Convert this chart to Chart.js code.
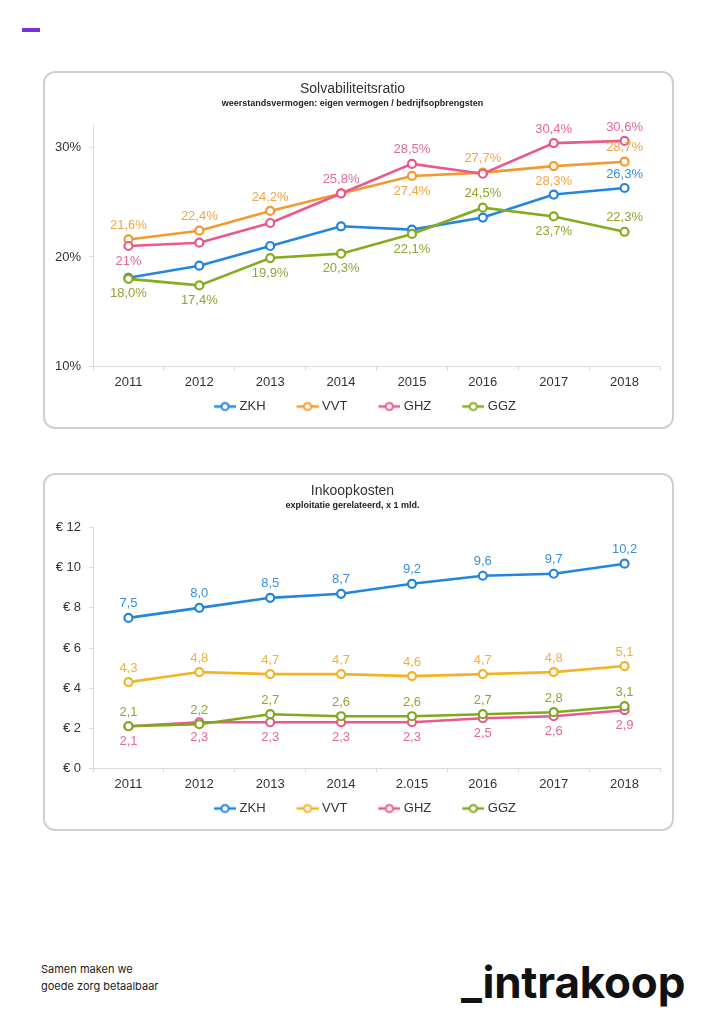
<!DOCTYPE html>
<html lang="nl">
<head>
  <meta charset="UTF-8" />
  <title>Solvabiliteitsratio en Inkoopkosten</title>
  <script src="https://cdn.jsdelivr.net/npm/chart.js@4.4.0/dist/chart.umd.min.js"></script>
  <style>
    html, body { margin: 0; padding: 0; background: #fff; }
    body { width: 724px; height: 1024px; position: relative; overflow: hidden; font-family: 'Liberation Sans', Arial, sans-serif; }
    .dash { position: absolute; left: 22px; top: 28px; width: 18px; height: 4px; background: #7a2fe2; }
    .card { position: absolute; left: 43px; width: 627px; height: 354px; border: 2px solid #cfcfcf; border-radius: 12px; background: #fff; }
    #card1 { top: 71px; }
    #card2 { top: 473px; }
    .card canvas { display: block; }
    .tagline { position: absolute; left: 41px; top: 961px; font-family: Inter, 'Noto Sans', sans-serif; font-size: 11px; line-height: 17px; color: #222; }
    .logo { position: absolute; left: 461px; top: 960px; font-family: Inter, 'Noto Sans', sans-serif; font-weight: 700; font-size: 44px; line-height: 44px; color: #111; letter-spacing: -0.2px; }
  </style>
</head>
<body>

<div class="dash"></div>

<div class="card" id="card1"><canvas id="solvChart" width="627" height="354"></canvas></div>
<div class="card" id="card2"><canvas id="kostChart" width="627" height="354"></canvas></div>

<div class="tagline">Samen maken we<br>goede zorg betaalbaar</div>
<div class="logo">_intrakoop</div>

<script>
  // --- data ---
  const seriesNames = ['ZKH', 'VVT', 'GHZ', 'GGZ'];
  const yearsSolv = ['2011', '2012', '2013', '2014', '2015', '2016', '2017', '2018'];
  const yearsKost = ['2011', '2012', '2013', '2014', '2.015', '2016', '2017', '2018'];

  // Solvabiliteitsratio (%)
  const solvZKH = [18.1, 19.2, 21.0, 22.8, 22.5, 23.6, 25.7, 26.3];
  const solvVVT = [21.6, 22.4, 24.2, 25.8, 27.4, 27.7, 28.3, 28.7];
  const solvGHZ = [21.0, 21.3, 23.1, 25.8, 28.5, 27.6, 30.4, 30.6];
  const solvGGZ = [18.0, 17.4, 19.9, 20.3, 22.1, 24.5, 23.7, 22.3];
  // label placement: 't' above the point, 'b' below, '' no label
  const solvPosZKH = ['', '', '', '', '', '', '', 't'];
  const solvPosVVT = ['t', 't', 't', '', 'b', 't', 'b', 't'];
  const solvPosGHZ = ['b', '', '', 't', 't', '', 't', 't'];
  const solvPosGGZ = ['b', 'b', 'b', 'b', 'b', 't', 'b', 't'];
  const solvTextGHZ0 = '21%'; // shown without decimal in the original

  // Inkoopkosten (x 1 mld euro)
  const kostZKH = [7.5, 8.0, 8.5, 8.7, 9.2, 9.6, 9.7, 10.2];
  const kostVVT = [4.3, 4.8, 4.7, 4.7, 4.6, 4.7, 4.8, 5.1];
  const kostGHZ = [2.1, 2.3, 2.3, 2.3, 2.3, 2.5, 2.6, 2.9];
  const kostGGZ = [2.1, 2.2, 2.7, 2.6, 2.6, 2.7, 2.8, 3.1];
  const kostPosZKH = ['t', 't', 't', 't', 't', 't', 't', 't'];
  const kostPosVVT = ['t', 't', 't', 't', 't', 't', 't', 't'];
  const kostPosGHZ = ['b', 'b', 'b', 'b', 'b', 'b', 'b', 'b'];
  const kostPosGGZ = ['t', 't', 't', 't', 't', 't', 't', 't'];

  const solvTicks = { min: 10, max: 32, step: 10 };
  const kostTicks = { min: 0, max: 12, step: 2 };

  const FONT = "'Liberation Sans', Arial, sans-serif";
  const colorsSolv = ['#2386de', '#f39a2f', '#e9598c', '#86ab1e'];
  const labelColorsSolv = ['#3b8fd9', '#f0a548', '#e4689a', '#8ea730'];
  const colorsKost = ['#2386de', '#f4b324', '#e9598c', '#80a91e'];
  const labelColorsKost = ['#3b8fd9', '#f0b23c', '#e4689a', '#8ea730'];

  // legend marker: short line with an open circle (drawn on the right of the box)
  function legendMark(color) {
    const c = document.createElement('canvas');
    c.width = 50; c.height = 12;
    const g = c.getContext('2d');
    g.strokeStyle = color;
    g.lineWidth = 2.5;
    g.beginPath(); g.moveTo(28, 6); g.lineTo(50, 6); g.stroke();
    g.beginPath(); g.arc(39, 6, 3.6, 0, Math.PI * 2);
    g.fillStyle = '#fff'; g.fill();
    g.lineWidth = 2; g.stroke();
    return c;
  }

  // draws the value labels above / below the points
  const pointLabels = {
    id: 'pointLabels',
    afterDatasetsDraw(chart) {
      const ctx = chart.ctx;
      ctx.save();
      ctx.font = '13px ' + FONT;
      ctx.textAlign = 'center';
      ctx.textBaseline = 'middle';
      chart.data.datasets.forEach((ds, i) => {
        const meta = chart.getDatasetMeta(i);
        meta.data.forEach((pt, j) => {
          const pos = ds.labelPos[j];
          if (!pos) return;
          ctx.fillStyle = ds.labelColor;
          const y = pos === 't' ? pt.y - 14 : pt.y + 15;
          ctx.fillText(ds.fmt(ds.data[j], j), pt.x, y);
        });
      });
      ctx.restore();
    }
  };

  function makeChart(id, opt) {
    const datasets = opt.series.map((vals, i) => ({
      label: seriesNames[i],
      data: vals,
      labelPos: opt.pos[i],
      labelColor: opt.labelColors[i],
      fmt: opt.fmt(i),
      borderColor: opt.colors[i],
      backgroundColor: '#fff',
      borderWidth: 2.6,
      pointRadius: 4,
      pointBorderWidth: 2.2,
      pointBackgroundColor: '#fff',
      pointBorderColor: opt.colors[i],
      tension: 0,
      order: 3 - i
    }));
    const marks = opt.colors.map(legendMark);

    return new Chart(document.getElementById(id), {
      type: 'line',
      data: { labels: opt.labels, datasets: datasets },
      plugins: [pointLabels],
      options: {
        responsive: false,
        animation: false,
        layout: { padding: { left: 0, right: 12, top: 0, bottom: 4 } },
        scales: {
          x: {
            offset: true,
            grid: { offset: true, drawOnChartArea: false, tickLength: 4, color: '#d9d9d9' },
            border: { color: '#d9d9d9' },
            ticks: { padding: 4, color: '#333', font: { family: FONT, size: 13 } }
          },
          y: {
            min: opt.ticks.min,
            max: opt.ticks.max,
            afterFit(scale) { scale.width = 48; },
            grid: { drawOnChartArea: false, tickLength: 4, color: '#d9d9d9' },
            border: { color: '#d9d9d9' },
            ticks: {
              stepSize: opt.ticks.step,
              includeBounds: false,
              padding: 8,
              color: '#333',
              font: { family: FONT, size: 13 },
              callback: opt.tickFmt
            }
          }
        },
        plugins: {
          title: {
            display: true,
            text: opt.title,
            color: '#333',
            font: { family: FONT, size: 14, weight: 'normal' },
            padding: { top: 8, bottom: 0 }
          },
          subtitle: {
            display: true,
            text: opt.subtitle,
            color: '#222',
            font: { family: FONT, size: 9, weight: 'bold' },
            padding: { top: 0, bottom: 17 }
          },
          legend: {
            position: 'bottom',
            labels: {
              usePointStyle: true,
              pointStyleWidth: 44,
              padding: 6,
              color: '#333',
              font: { family: FONT, size: 13 },
              sort: (a, b) => a.datasetIndex - b.datasetIndex,
              generateLabels(chart) {
                const items = Chart.defaults.plugins.legend.labels.generateLabels(chart);
                items.forEach(it => { it.pointStyle = marks[it.datasetIndex]; });
                return items;
              }
            }
          },
          tooltip: { enabled: false }
        }
      }
    });
  }

  const comma = v => v.toFixed(1).replace('.', ',');

  makeChart('solvChart', {
    title: 'Solvabiliteitsratio',
    subtitle: 'weerstandsvermogen: eigen vermogen / bedrijfsopbrengsten',
    labels: yearsSolv,
    series: [solvZKH, solvVVT, solvGHZ, solvGGZ],
    pos: [solvPosZKH, solvPosVVT, solvPosGHZ, solvPosGGZ],
    colors: colorsSolv,
    labelColors: labelColorsSolv,
    ticks: solvTicks,
    tickFmt: v => v + '%',
    fmt: i => (v, j) => (i === 2 && j === 0) ? solvTextGHZ0 : comma(v) + '%'
  });

  makeChart('kostChart', {
    title: 'Inkoopkosten',
    subtitle: 'exploitatie gerelateerd, x 1 mld.',
    labels: yearsKost,
    series: [kostZKH, kostVVT, kostGHZ, kostGGZ],
    pos: [kostPosZKH, kostPosVVT, kostPosGHZ, kostPosGGZ],
    colors: colorsKost,
    labelColors: labelColorsKost,
    ticks: kostTicks,
    tickFmt: v => '€ ' + v,
    fmt: i => v => comma(v)
  });
</script>
</body>
</html>
